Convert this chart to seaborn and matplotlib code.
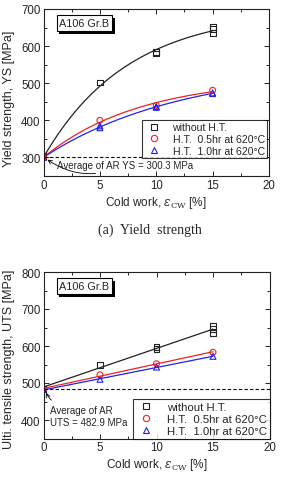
import numpy as np
import pandas as pd
import matplotlib
matplotlib.use("Agg")
import matplotlib.pyplot as plt
import matplotlib.patheffects as pe
from matplotlib.ticker import MultipleLocator
import seaborn as sns

sns.set_style("ticks")
plt.rcParams['font.family'] = ['Liberation Sans', 'DejaVu Sans']
plt.rcParams['mathtext.fontset'] = 'dejavuserif'

# ---------------- data ----------------
series = ["without H.T.", "H.T.  0.5hr at 620°C", "H.T.  1.0hr at 620°C"]
colors = ["#222222", "#ee2222", "#2222ee"]
markers = ["s", "o", "^"]

# Yield strength
ys_x_nht = [0, 5, 10, 10, 15, 15, 15]
ys_y_nht = [303, 502, 580, 585, 635, 645, 652]
ys_x_h05 = [0, 5, 10, 15]
ys_y_h05 = [301, 400, 440, 481]
ys_x_h10 = [0, 5, 5, 10, 10, 15, 15]
ys_y_h10 = [300, 385, 380, 437, 435, 474, 472]
ys_avg = 300.3

# Ultimate tensile strength
uts_x_nht = [0, 5, 10, 10, 15, 15, 15]
uts_y_nht = [484, 548, 597, 592, 653, 645, 635]
uts_x_h05 = [0, 5, 10, 15]
uts_y_h05 = [483, 522, 552, 583]
uts_x_h10 = [0, 5, 10, 15]
uts_y_h10 = [482, 510, 543, 572]
uts_avg = 482.9

W, H = 281, 489
fig = plt.figure(figsize=(W / 100, H / 100), dpi=100)

def px_axes(l, t, r, b):
    return fig.add_axes([l / W, 1 - b / H, (r - l) / W, (b - t) / H])

ax1 = px_axes(43.5, 10, 269, 177)
ax2 = px_axes(43.5, 273, 269.5, 439.5)

xs = np.linspace(0, 15, 150)

def fit_saturating(x, y, base):
    # least-squares fit of y = base + A * (1 - exp(-x / tau))
    x = np.asarray(x, float); d = np.asarray(y, float) - base
    best = None
    for tau in np.linspace(1, 60, 600):
        f = 1 - np.exp(-x / tau)
        A = np.sum(f * d) / np.sum(f * f)
        r = np.sum((d - A * f) ** 2)
        if best is None or r < best[0]:
            best = (r, A, tau)
    _, A, tau = best
    return base + A * (1 - np.exp(-xs / tau))

def fit_linear(x, y, base):
    return np.polyval(np.polyfit(x, y, 1), xs)

def draw(ax, data, fitter, ylim, avg):
    handles = []
    for (x, y), name, c, m in zip(data, series, colors, markers):
        fit = pd.DataFrame({"x": xs, "y": fitter(x, y, avg)})
        sns.lineplot(data=fit, x="x", y="y", ax=ax, color=c, lw=0.9, legend=False)
        pts = pd.DataFrame({"x": x, "y": y})
        sns.scatterplot(data=pts, x="x", y="y", ax=ax, marker=m, s=18,
                        facecolor="none", edgecolor=c, linewidth=0.8, legend=False)
        handles.append(plt.Line2D([], [], ls="none", marker=m, mfc="none",
                                  mec=c, ms=4.5, mew=0.8, label=name))
    ax.axhline(avg, color="k", ls=(0, (3, 2)), lw=0.8)
    ax.set_xlim(0, 20)
    ax.set_ylim(*ylim)
    ax.xaxis.set_major_locator(MultipleLocator(5))
    ax.xaxis.set_minor_locator(MultipleLocator(2.5))
    ax.yaxis.set_major_locator(MultipleLocator(100))
    ax.yaxis.set_minor_locator(MultipleLocator(50))
    ax.tick_params(which="both", direction="in", top=True, right=True,
                   labelsize=8.3, width=0.7, pad=2)
    ax.tick_params(which="major", length=3.5)
    ax.tick_params(which="minor", length=2)
    for s in ax.spines.values():
        s.set_linewidth(0.8)
        s.set_color("#222222")
    ax.set_xlabel(r"Cold work, $\epsilon_{\rm CW}$ [%]", fontsize=8.5, labelpad=2)
    t = ax.text(0.07, 0.915, "A106 Gr.B", transform=ax.transAxes, fontsize=7.8,
                ha="left", va="center",
                bbox=dict(boxstyle="square,pad=0.25", fc="white", ec="k", lw=0.8))
    t.get_bbox_patch().set_path_effects([
        pe.SimplePatchShadow(offset=(2, -2), shadow_rgbFace="k", alpha=1),
        pe.Normal()])
    return handles

h1 = draw(ax1, [(ys_x_nht, ys_y_nht), (ys_x_h05, ys_y_h05), (ys_x_h10, ys_y_h10)],
          fit_saturating, (250, 700), ys_avg)
ax1.set_ylabel("Yield strength, YS [MPa]", fontsize=9)
ax1.yaxis.set_label_coords(-0.125, 0.47)
leg1 = ax1.legend(handles=h1, loc="lower right", bbox_to_anchor=(0.99, 0.11),
                  fontsize=7.6, frameon=True, fancybox=False, edgecolor="k",
                  handletextpad=0.9, borderpad=0.2, labelspacing=0.15,
                  handlelength=1.8, borderaxespad=0)
leg1.get_frame().set_linewidth(0.8)
ax1.annotate("Average of AR YS = 300.3 MPa", xy=(0.15, ys_avg - 2),
             xytext=(1.2, 280), fontsize=7, va="center", ha="left",
             arrowprops=dict(arrowstyle="->", lw=0.6, color="k",
                             connectionstyle="arc3,rad=-0.3"))

h2 = draw(ax2, [(uts_x_nht, uts_y_nht), (uts_x_h05, uts_y_h05), (uts_x_h10, uts_y_h10)],
          fit_linear, (350, 800), uts_avg)
ax2.set_ylabel("Ulti. tensile strength, UTS [MPa]", fontsize=9)
ax2.yaxis.set_label_coords(-0.125, 0.48)
leg2 = ax2.legend(handles=h2, loc="lower right", bbox_to_anchor=(1.0, 0.0),
                  fontsize=8.2, frameon=True, fancybox=False, edgecolor="k",
                  handletextpad=0.9, borderpad=0.25, labelspacing=0.15,
                  handlelength=1.8, borderaxespad=0)
leg2.get_frame().set_linewidth(0.8)
ax2.annotate("Average of AR\nUTS = 482.9 MPa", xy=(0.15, uts_avg - 2),
             xytext=(0.6, 410), fontsize=7, va="center", ha="left",
             linespacing=1.3,
             arrowprops=dict(arrowstyle="->", lw=0.6, color="k",
                             connectionstyle="arc3,rad=-0.3",
                             relpos=(0.15, 1.0)))

fig.text(150 / W, 1 - 230 / H, "(a)  Yield  strength", family="Liberation Serif",
         fontsize=10, ha="center", va="center")
fig.text(150 / W, 1 - 494 / H, "(b)  Tensile  strength", family="Liberation Serif",
         fontsize=10, ha="center", va="center")

fig.savefig("out.png", dpi=100)
